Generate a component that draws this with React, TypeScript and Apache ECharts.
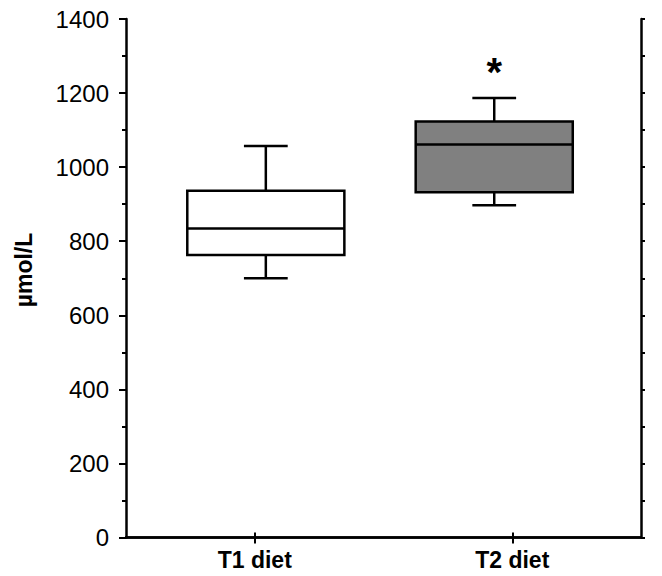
import React, { useEffect, useRef } from "react";
import * as echarts from "echarts";

// ---- data ----
const categories = ["T1 diet", "T2 diet"];
const whiskerLow = [700, 897];
const quartile1 = [763, 932];
const medians = [834, 1061];
const quartile3 = [936, 1123];
const whiskerHigh = [1057, 1187];
const significance = ["", "*"];
const yTicks = [0, 200, 400, 600, 800, 1000, 1200, 1400];
const yTitle = "µmol/L";

// ---- style ----
const BOX_FILL = ["#ffffff", "#808080"];
const BOX_SHIFT = [0.043, -0.07]; // fraction of band width
const BOX_FRAC = 0.61;
const CAP_FRAC = 0.17;
const FONT = "Liberation Sans, Arial, sans-serif";

export default function App() {
  const ref = useRef<HTMLDivElement>(null);
  useEffect(() => {
    document.body.style.margin = "0";
    const chart = echarts.init(ref.current!, null, { renderer: "svg" });
    const data = categories.map((_, i) => [
      i,
      whiskerLow[i],
      quartile1[i],
      medians[i],
      quartile3[i],
      whiskerHigh[i],
    ]);
    const axisLine = { show: true, lineStyle: { color: "#000", width: 2.5 } };
    chart.setOption({
      animation: false,
      backgroundColor: "#fff",
      grid: { left: 126, right: 21, top: 19, bottom: 38.5 },
      graphic: [
        {
          type: "text",
          x: 24,
          y: 270,
          rotation: Math.PI / 2,
          style: {
            text: yTitle,
            fill: "#000",
            font: `bold 23px ${FONT}`,
            textAlign: "center",
            textVerticalAlign: "middle",
          },
        },
      ],
      xAxis: [
        {
          type: "category",
          position: "bottom",
          data: categories,
          boundaryGap: true,
          axisLine,
          axisTick: { show: true, alignWithLabel: true, length: 6, lineStyle: { color: "#000", width: 2 } },
          axisLabel: { color: "#000", fontSize: 23, fontWeight: "bold", fontFamily: FONT, margin: 11 },
        },
        {
          type: "category",
          position: "top",
          data: categories,
          boundaryGap: true,
          axisLine,
          axisTick: { show: true, alignWithLabel: true, length: 5, lineStyle: { color: "#000", width: 2 } },
          axisLabel: { show: false },
        },
      ],
      yAxis: [
        {
          type: "value",
          position: "left",
          min: yTicks[0],
          max: yTicks[yTicks.length - 1],
          interval: 200,
          axisLine,
          axisTick: { show: true, length: 7, lineStyle: { color: "#000", width: 2 } },
          minorTick: { show: true, splitNumber: 2, length: 4, lineStyle: { color: "#000", width: 2 } },
          splitLine: { show: false },
          axisLabel: {
            color: "#000",
            fontSize: 24,
            fontFamily: FONT,
            margin: 17,
            formatter: (v: number) => String(v),
          },
        },
        {
          type: "value",
          position: "right",
          min: 0,
          max: 1400,
          interval: 100,
          axisLine,
          axisTick: { show: true, length: 4, lineStyle: { color: "#000", width: 2 } },
          splitLine: { show: false },
          axisLabel: { show: false },
        },
      ],
      series: [
        {
          type: "custom",
          xAxisIndex: 0,
          yAxisIndex: 0,
          encode: { x: 0, y: [1, 2, 3, 4, 5] },
          data,
          renderItem: (params: any, api: any) => {
            const idx = api.value(0);
            const band = api.size([1, 0])[0];
            const cx = api.coord([idx, 0])[0] + BOX_SHIFT[idx] * band;
            const yMin = api.coord([idx, api.value(1)])[1];
            const yQ1 = api.coord([idx, api.value(2)])[1];
            const yMed = api.coord([idx, api.value(3)])[1];
            const yQ3 = api.coord([idx, api.value(4)])[1];
            const yMax = api.coord([idx, api.value(5)])[1];
            const hw = (band * BOX_FRAC) / 2;
            const cw = (band * CAP_FRAC) / 2;
            const ls = { stroke: "#000", lineWidth: 2.5 };
            const children: any[] = [
              { type: "line", shape: { x1: cx, y1: yQ3, x2: cx, y2: yMax }, style: ls },
              { type: "line", shape: { x1: cx, y1: yQ1, x2: cx, y2: yMin }, style: ls },
              { type: "line", shape: { x1: cx - cw, y1: yMax, x2: cx + cw, y2: yMax }, style: ls },
              { type: "line", shape: { x1: cx - cw, y1: yMin, x2: cx + cw, y2: yMin }, style: ls },
              {
                type: "rect",
                shape: { x: cx - hw, y: yQ3, width: hw * 2, height: yQ1 - yQ3 },
                style: { fill: BOX_FILL[idx], stroke: "#000", lineWidth: 2.5 },
              },
              { type: "line", shape: { x1: cx - hw, y1: yMed, x2: cx + hw, y2: yMed }, style: ls },
            ];
            if (significance[idx]) {
              children.push({
                type: "text",
                x: cx,
                y: yMax - 26,
                style: {
                  text: significance[idx],
                  fill: "#000",
                  font: `bold 40px ${FONT}`,
                  textAlign: "center",
                  textVerticalAlign: "middle",
                },
              });
            }
            return { type: "group", children };
          },
        },
      ],
    });
    return () => chart.dispose();
  }, []);
  return <div ref={ref} style={{ width: 662, height: 576 }} />;
}
